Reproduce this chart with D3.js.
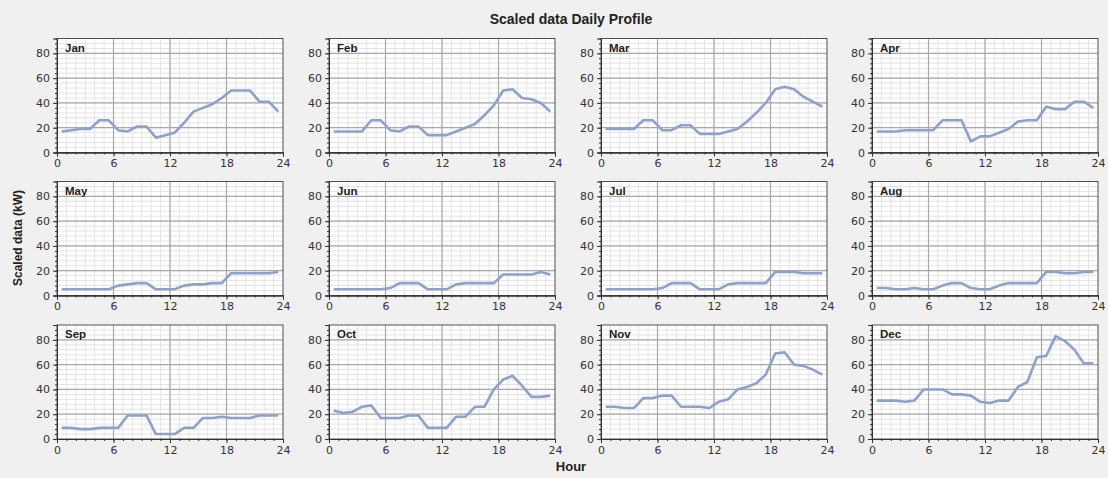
<!DOCTYPE html>
<html><head><meta charset="utf-8">
<script src="https://cdn.jsdelivr.net/npm/d3@7"></script>
<style>
html,body{margin:0;padding:0;background:#f0f0f0;}
svg{display:block;font-family:"Liberation Sans",Arial,sans-serif;}
</style></head>
<body><svg id="c" width="1108" height="478"></svg>
<script>
const months = ["Jan","Feb","Mar","Apr","May","Jun","Jul","Aug","Sep","Oct","Nov","Dec"];
const hours = d3.range(24);
const jan = [17,18,19,19,26,26,18,17,21,21,12,14,16,24,33,36,39,44,50,50,50,41,41,33];
const feb = [17,17,17,17,26,26,18,17,21,21,14,14,14,17,20,23,30,38,50,51,44,43,40,33];
const mar = [19,19,19,19,26,26,18,18,22,22,15,15,15,17,19,25,32,40,51,53,51,45,41,37];
const apr = [17,17,17,18,18,18,18,26,26,26,9,13,13,16,19,25,26,26,37,35,35,41,41,36];
const may = [5,5,5,5,5,5,8,9,10,10,5,5,5,8,9,9,10,10,18,18,18,18,18,19];
const jun = [5,5,5,5,5,5,6,10,10,10,5,5,5,9,10,10,10,10,17,17,17,17,19,17];
const jul = [5,5,5,5,5,5,6,10,10,10,5,5,5,9,10,10,10,10,19,19,19,18,18,18];
const aug = [6,6,5,5,6,5,5,8,10,10,6,5,5,8,10,10,10,10,19,19,18,18,19,19];
const sep = [9,9,8,8,9,9,9,19,19,19,4,4,4,9,9,17,17,18,17,17,17,19,19,19];
const oct = [23,21,22,26,27,17,17,17,19,19,9,9,9,18,18,26,26,40,48,51,43,34,34,35];
const nov = [26,26,25,25,33,33,35,35,26,26,26,25,30,32,40,42,45,52,69,70,60,59,56,52];
const dec = [31,31,31,30,31,40,40,40,36,36,35,30,29,31,31,42,46,66,67,83,79,72,61,61];
const series = [jan,feb,mar,apr,may,jun,jul,aug,sep,oct,nov,dec];
const xTicks = [0,6,12,18,24];
const yTicks = [0,20,40,60,80];

const svg = d3.select("#c");
const W = 226, H = 114;
const colX = [57, 329, 601, 872];
const rowZero = [152.5, 295.5, 439];

svg.append("text").attr("x",571).attr("y",24).attr("text-anchor","middle")
  .attr("font-size",14).attr("font-weight","bold").attr("fill","#222").text("Scaled data Daily Profile");
svg.append("text").attr("transform","translate(22,238) rotate(-90)").attr("text-anchor","middle")
  .attr("font-size",12).attr("font-weight","bold").attr("fill","#222").text("Scaled data (kW)");
svg.append("text").attr("x",571).attr("y",471).attr("text-anchor","middle")
  .attr("font-size",13).attr("font-weight","bold").attr("fill","#222").text("Hour");

series.forEach((vals, i) => {
  const c = i % 4, r = Math.floor(i / 4);
  const x0 = colX[c], y1 = rowZero[r], y0 = y1 - H;
  const x = d3.scaleLinear().domain([0,24]).range([x0, x0 + W]);
  const y = d3.scaleLinear().domain([0,92]).range([y1, y0]);
  const g = svg.append("g");
  g.append("rect").attr("x",x0).attr("y",y0).attr("width",W).attr("height",H).attr("fill","#fff");
  // minor grid
  g.selectAll(".vm").data(d3.range(1,24)).enter().append("line")
    .attr("x1",d=>x(d)).attr("x2",d=>x(d)).attr("y1",y0).attr("y2",y1)
    .attr("stroke","#e4e4e4").attr("stroke-width",1);
  g.selectAll(".hm").data(d3.range(4,92,4)).enter().append("line")
    .attr("y1",d=>y(d)).attr("y2",d=>y(d)).attr("x1",x0).attr("x2",x0+W)
    .attr("stroke","#e4e4e4").attr("stroke-width",1);
  // major grid
  g.selectAll(".vM").data([6,12,18]).enter().append("line")
    .attr("x1",d=>x(d)).attr("x2",d=>x(d)).attr("y1",y0).attr("y2",y1)
    .attr("stroke","#a8a8a8").attr("stroke-width",1.2);
  g.selectAll(".hM").data([20,40,60,80]).enter().append("line")
    .attr("y1",d=>y(d)).attr("y2",d=>y(d)).attr("x1",x0).attr("x2",x0+W)
    .attr("stroke","#a8a8a8").attr("stroke-width",1.2);
  // border
  g.append("rect").attr("x",x0).attr("y",y0).attr("width",W).attr("height",H)
    .attr("fill","none").attr("stroke","#505050").attr("stroke-width",1);
  // axes
  const xa = d3.axisBottom(x).tickValues(xTicks).tickSize(4).tickPadding(3).tickFormat(d3.format("d"));
  const xm = d3.axisBottom(x).tickValues(d3.range(0,25)).tickSize(2).tickFormat("");
  const ya = d3.axisLeft(y).tickValues(yTicks).tickSize(4).tickPadding(3);
  const ym = d3.axisLeft(y).tickValues(d3.range(0,92,4)).tickSize(2).tickFormat("");
  [[xa,"b"],[xm,"b"],[ya,"l"],[ym,"l"]].forEach(([a,t]) => {
    const ag = g.append("g").attr("transform", t==="b" ? `translate(0,${y1})` : `translate(${x0},0)`).call(a);
    ag.select(".domain").attr("stroke","#333");
    ag.selectAll(".tick line").attr("stroke","#333");
    ag.selectAll("text").attr("font-size",11).attr("fill","#333")
      .attr("font-family","'DejaVu Sans',sans-serif");
  });
  // line
  const line = d3.line().x((d,h)=>x(h+0.5)).y(d=>y(d));
  g.append("path").datum(vals).attr("d",line).attr("fill","none")
    .attr("stroke","#8aa2cc").attr("stroke-width",2.6).attr("stroke-linejoin","round");
  g.append("text").attr("x",x0+8).attr("y",y0+13).attr("font-size",11.5).attr("font-weight","bold")
    .attr("fill","#222").text(months[i]);
});
</script></body></html>
